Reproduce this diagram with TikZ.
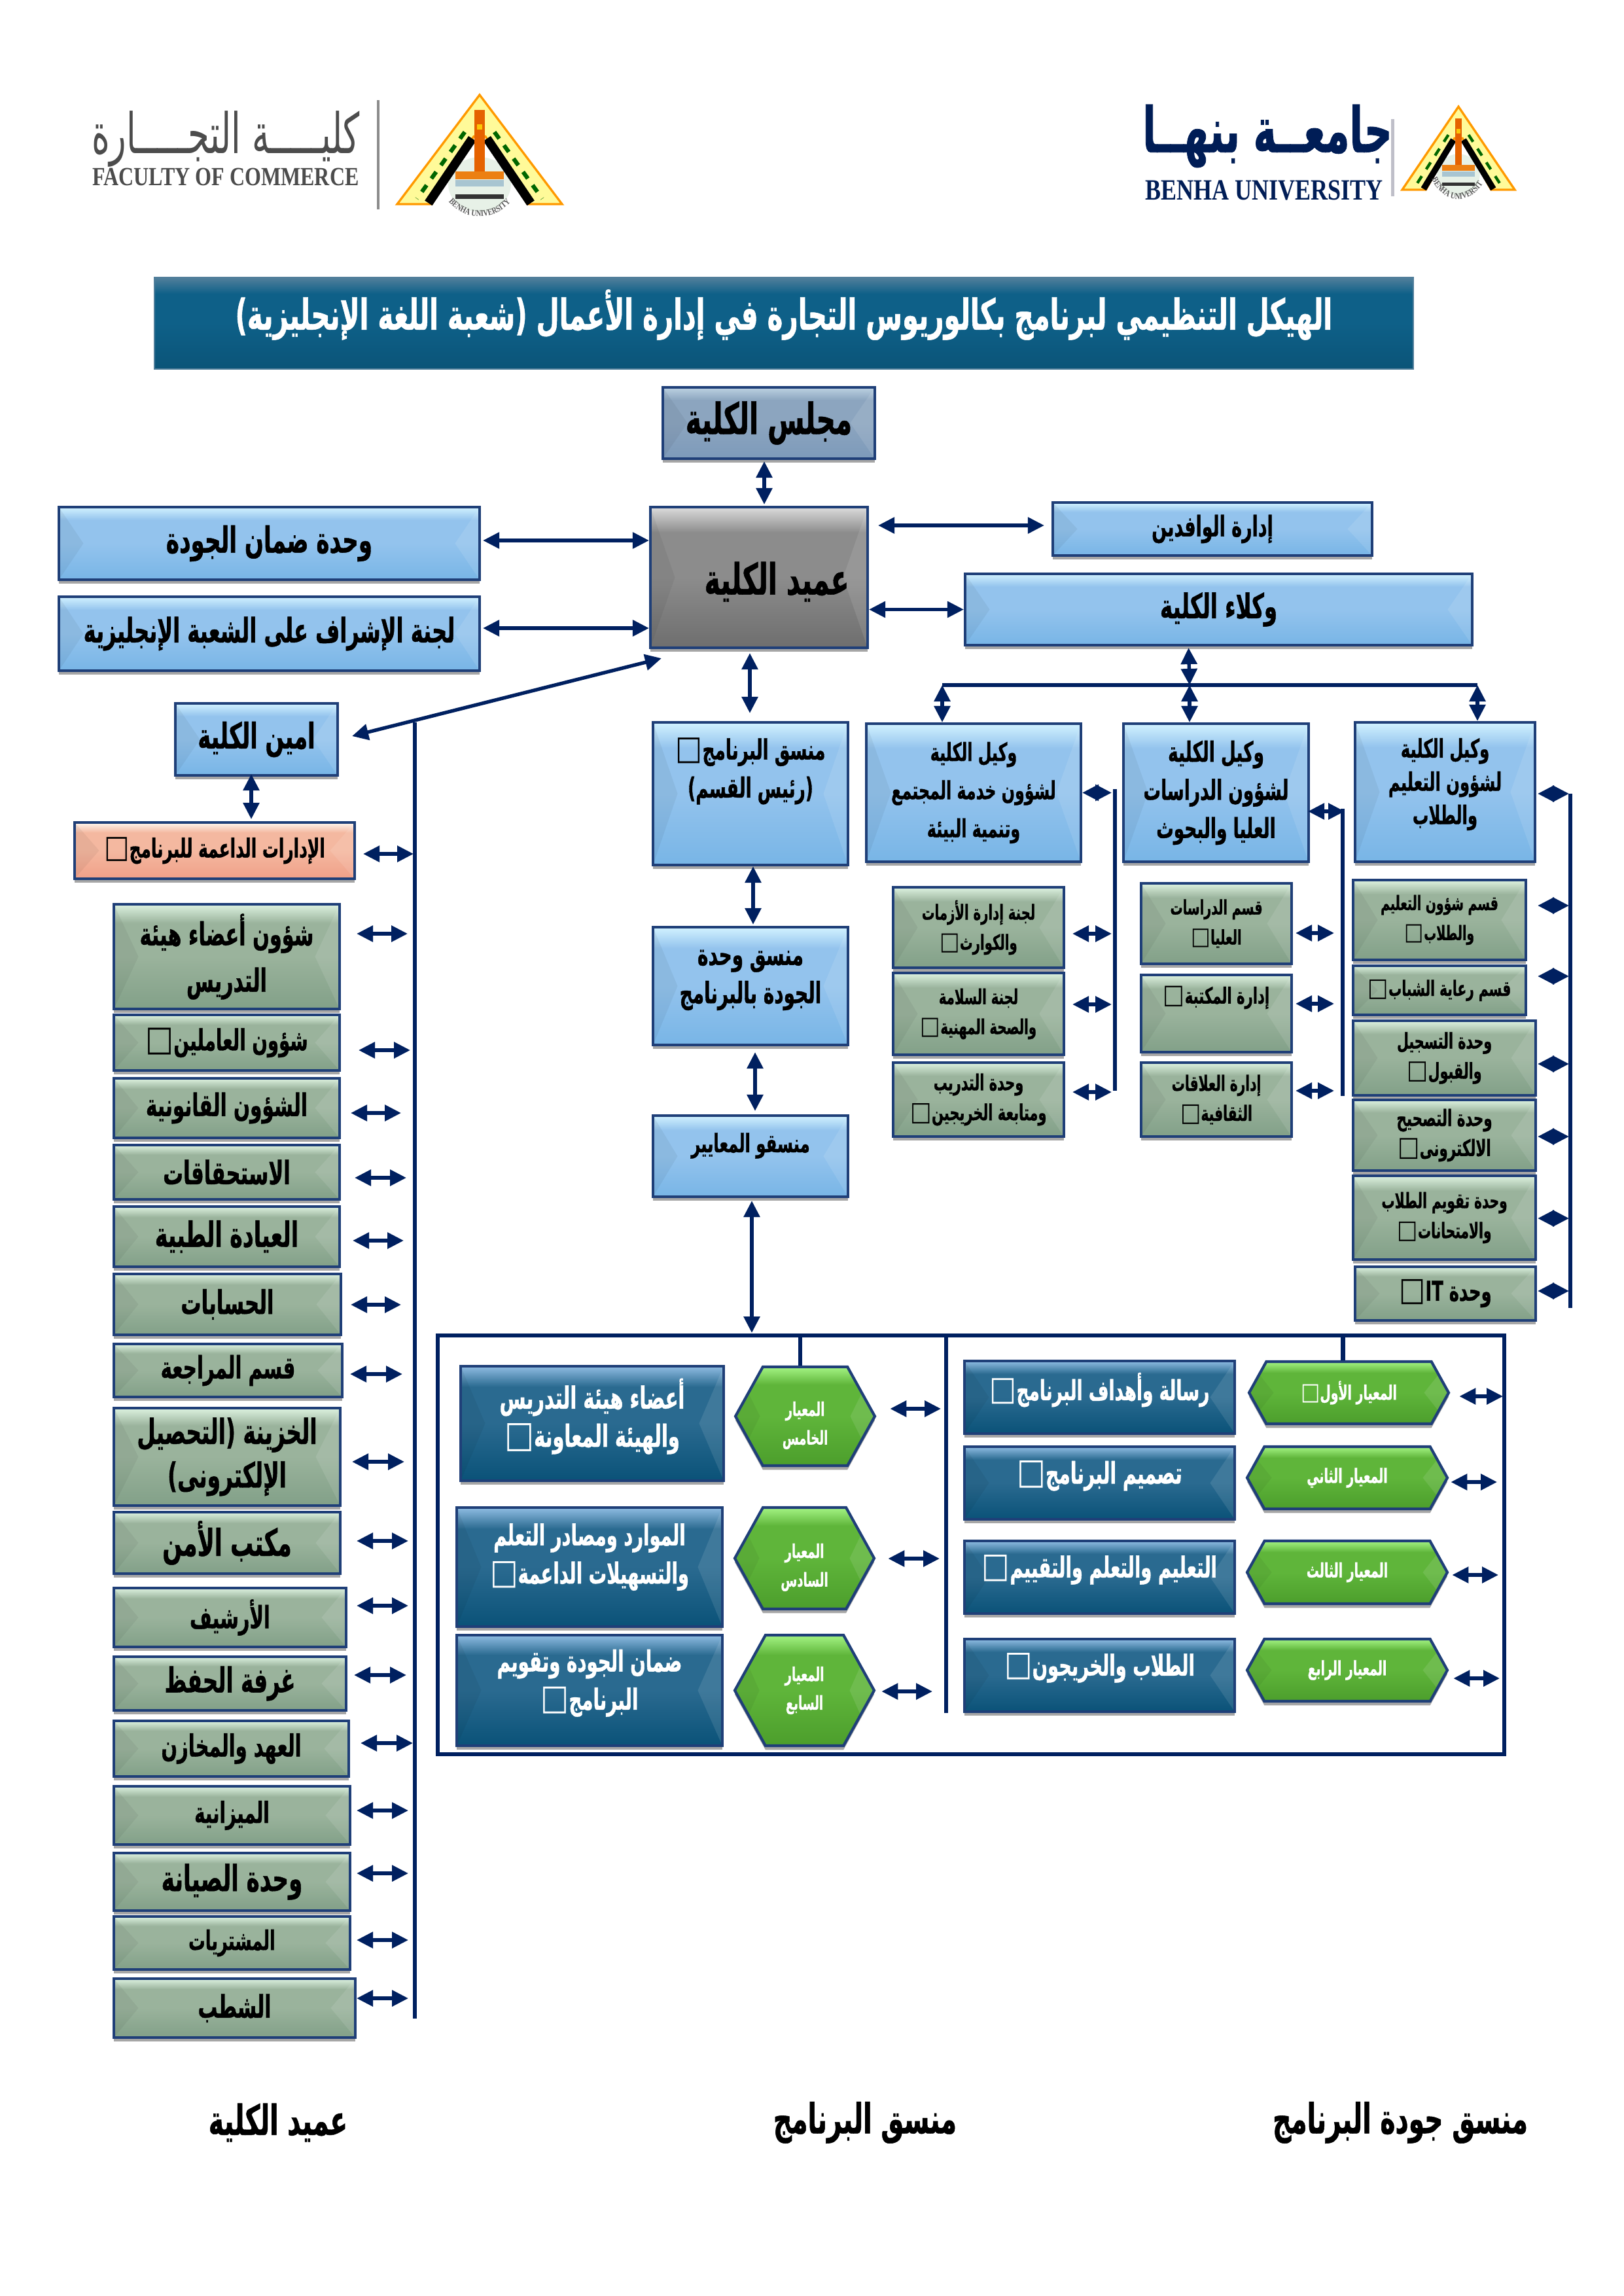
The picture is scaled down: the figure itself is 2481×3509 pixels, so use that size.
\documentclass[tikz,border=0pt]{standalone}
\usepackage{fontspec}
\usetikzlibrary{arrows.meta,shadows,shapes.symbols,decorations.text}
\setmainfont{DejaVu Sans}
\newfontfamily\arabicfont[Script=Arabic,FakeStretch=0.62,BoldFeatures={FakeBold=0.8}]{DejaVu Sans}
\newfontfamily\capsfont[FakeStretch=0.8]{Liberation Serif}
\newfontfamily\boxfont[Scale=1.2,FakeStretch=0.85]{DejaVu Sans}
\TeXXeTstate=1
\def\pxu{0.24pt}
\newcommand{\ar}[1]{\beginR #1\endR}
\newcommand{\tofu}{{\boxfont\mdseries □}}
\newcommand{\arsize}[2]{\arabicfont\bfseries\fontsize{#1}{#2}\selectfont}
\definecolor{navy}{HTML}{002060}
\definecolor{rim}{HTML}{1F3F78}
\definecolor{blueA}{HTML}{D2F2FF}\definecolor{blueB}{HTML}{93C3ED}\definecolor{blueC}{HTML}{78B5E6}
\definecolor{sageA}{HTML}{DDF2E0}\definecolor{sageB}{HTML}{9AB39C}\definecolor{sageC}{HTML}{82A088}
\definecolor{deepA}{HTML}{8FBCE2}\definecolor{deepB}{HTML}{2A6A90}\definecolor{deepC}{HTML}{0A5278}
\definecolor{limeA}{HTML}{A4F484}\definecolor{limeB}{HTML}{5FB53A}\definecolor{limeC}{HTML}{4C9E2C}
\definecolor{salmonA}{HTML}{FFF6EE}\definecolor{salmonB}{HTML}{F4B8A0}\definecolor{salmonC}{HTML}{F0A088}
\definecolor{greyA}{HTML}{DCDCDC}\definecolor{greyB}{HTML}{8C8C8C}\definecolor{greyC}{HTML}{6E6E6E}
\definecolor{slateA}{HTML}{BCD2E2}\definecolor{slateB}{HTML}{8CA5BF}\definecolor{slateC}{HTML}{7D9ABA}
\definecolor{headA}{HTML}{527F9B}\definecolor{headB}{HTML}{0E6088}\definecolor{headC}{HTML}{0B5478}
% three stops for each bevelled fill
\newcommand{\makeshade}[1]{\pgfdeclareverticalshading{#1shade}{100bp}{color(0bp)=(#1C); color(25bp)=(#1C); color(50bp)=(#1B); color(66bp)=(#1B); color(75bp)=(#1A); color(100bp)=(#1A)}}
\makeshade{blue}\makeshade{sage}\makeshade{deep}\makeshade{lime}\makeshade{salmon}\makeshade{grey}\makeshade{slate}\makeshade{head}
% crest: apex at #1,#2, half width #3, height #4
\newcommand{\crest}[4]{%
\begin{scope}[shift={(#1,#2)},x=#3*\pxu,y=-#4*\pxu]
\fill[green!25!gray!15!white] (0,.82) ellipse (.38 and .25);
\fill[yellow!40!white,draw=orange!80!yellow,line width=.8pt] (0,0) -- (1,1) -- (.58,1) -- (.07,.38) -- (-.07,.38) -- (-.58,1) -- (-1,1) -- cycle;
\draw[black,line width=#3*.026pt] (.09,.4) -- (.62,.99) (-.09,.4) -- (-.62,.99);
\draw[black!60!green,line width=#3*.012pt,dashed] (.18,.34) -- (.76,.95) (-.18,.34) -- (-.76,.95);
\fill[orange!85!red!90!black] (-.06,.14) rectangle (.06,.72);
\fill[yellow!60!orange] (-.035,.27) rectangle (.035,.32);
\fill[orange!70!brown] (-.29,.7) rectangle (.29,.77);
\fill[cyan!35!gray!60!white] (-.29,.78) rectangle (.29,.84);
\fill[black!80] (-.29,.91) rectangle (.29,.95);
\path[decorate,decoration={text along path,text align=center,text color=black!65,text={|\capsfont\bfseries\fontsize{3.2}{4}\selectfont|BENHA UNIVERSITY}}] (-.42,.94) .. controls (-.2,1.17) and (.2,1.17) .. (.42,.94);
\end{scope}}
\begin{document}
\begin{tikzpicture}[
  x=\pxu, y=-\pxu,
  every node/.style={inner sep=0pt, align=center},
  boxsize/.style 2 args={minimum width=#1*\pxu, minimum height=#2*\pxu},
  panel/.style={draw=rim, line width=1pt, shade, drop shadow={shadow xshift=0pt, shadow yshift=-1.5pt, opacity=.35, fill=black},
    path picture={
      \fill[black,opacity=.05] (path picture bounding box.north west) -- ([xshift=9pt]path picture bounding box.west) -- (path picture bounding box.south west) -- cycle;
      \fill[white,opacity=.1] (path picture bounding box.north east) -- ([xshift=-9pt]path picture bounding box.east) -- (path picture bounding box.south east) -- cycle;
    }},
  bluebox/.style={panel, shading=blueshade, text=black},
  sagebox/.style={panel, shading=sageshade, text=black},
  deepbox/.style={panel, shading=deepshade, text=white},
  hexbox/.style={panel, shading=limeshade, text=white, shape=signal, signal to=west and east, signal pointer angle=122},
  twoway/.style={{Triangle[length=6pt,width=5.8pt]}-{Triangle[length=6pt,width=5.8pt]}, navy, line width=1.3pt},
  bus/.style={navy, line width=1.5pt},
  signoff/.style={font=\arsize{15.2}{18}, text=black}
]
\path[fill=white,use as bounding box] (0,0) rectangle (2481,3509);

% logos
\crest{733}{145}{126}{167}
\draw[black!45,line width=.8pt] (578,153) -- (578,320);
\node[font=\arabicfont\fontsize{20.5}{24}\selectfont, text=black!70] (faculty) at (345,212) {\ar{كليـــــة التجـــــارة}};
\node[font=\capsfont\bfseries\fontsize{9.6}{12}\selectfont, text=black!70] (commerce) at (345,270) {FACULTY OF COMMERCE};
\crest{2229}{163}{86}{127}
\draw[blue!15!black!25,line width=1.2pt] (2128,182) -- (2128,300);
\node[font=\arsize{23}{28}, text=navy!90!black] (benhaAr) at (1937,208) {\ar{جامعــة بنهــا}};
\node[font=\capsfont\bfseries\fontsize{10.8}{13}\selectfont, text=navy!90!black] (benha) at (1932,291) {BENHA UNIVERSITY};

\node[shade, shading=headshade, draw=headA, boxsize={1924}{140}, text=white, font=\arsize{15.6}{18}, text depth=10pt] (title) at (1198,494) {\ar{الهيكل التنظيمي لبرنامج بكالوريوس التجارة في إدارة الأعمال (شعبة اللغة الإنجليزية)}};

% top of the chart
\node[panel, shading=slateshade, boxsize={324}{109}, font=\arsize{15.8}{18}] (council) at (1175,646.5) {\ar{مجلس الكلية}};
\node[panel, shading=greyshade, boxsize={332}{215}, font=\arsize{15.8}{18}, text height=15.2pt] (dean) at (1160,882.5) {\hspace*{13pt}\ar{عميد الكلية}};
\node[bluebox, boxsize={643}{111}, font=\arsize{13.2}{15}] (qaUnit) at (411.5,830.5) {\ar{وحدة ضمان الجودة}};
\node[bluebox, boxsize={643}{113}, font=\arsize{12.4}{15}] (supervise) at (411.5,968.5) {\ar{لجنة الإشراف على الشعبة الإنجليزية}};
\node[bluebox, boxsize={488}{81}, font=\arsize{10.4}{14}] (expats) at (1853,808.5) {\ar{إدارة الوافدين}};
\node[bluebox, boxsize={775}{109}, font=\arsize{12.5}{15}] (viceDeans) at (1862.5,931.5) {\ar{وكلاء الكلية}};
\node[bluebox, boxsize={248}{110}, font=\arsize{13}{15}] (secretary) at (392,1130) {\ar{امين الكلية}};
\node[panel, shading=salmonshade, boxsize={428}{86}, font=\arsize{9.6}{11}] (support) at (328,1300) {\ar{الإدارات الداعمة للبرنامج\tofu}};

% left column
\node[sagebox, boxsize={345}{160}, font=\arsize{11.7}{17}] (sa1) at (346.5,1462) {\ar{شؤون أعضاء هيئة}\\\ar{التدريس}};
\node[sagebox, boxsize={345}{85}, font=\arsize{10.7}{15}] (sa2) at (346.5,1593.5) {\ar{شؤون العاملين\tofu}};
\node[sagebox, boxsize={345}{91}, font=\arsize{11.4}{15}] (sa3) at (346.5,1693.5) {\ar{الشؤون القانونية}};
\node[sagebox, boxsize={345}{83}, font=\arsize{11.9}{15}] (sa4) at (346.5,1791.5) {\ar{الاستحقاقات}};
\node[sagebox, boxsize={345}{92}, font=\arsize{12.8}{15}] (sa5) at (346.5,1890) {\ar{العيادة  الطبية}};
\node[sagebox, boxsize={347}{93}, font=\arsize{12}{15}] (sa6) at (347.5,1993.5) {\ar{الحسابات}};
\node[sagebox, boxsize={349}{81}, font=\arsize{11.3}{15}] (sa7) at (348.5,2094.5) {\ar{قسم  المراجعة}};
\node[sagebox, boxsize={346}{149}, font=\arsize{12.7}{16}] (sa8) at (347,2226.5) {\ar{الخزينة (التحصيل}\\\ar{الإلكترونى)}};
\node[sagebox, boxsize={346}{94}, font=\arsize{13.6}{15}] (sa9) at (347,2358) {\ar{مكتب الأمن}};
\node[sagebox, boxsize={355}{90}, font=\arsize{11.2}{15}] (sa10) at (351.5,2472) {\ar{الأرشيف}};
\node[sagebox, boxsize={355}{82}, font=\arsize{12.6}{15}] (sa11) at (351.5,2573) {\ar{غرفة  الحفظ}};
\node[sagebox, boxsize={359}{85}, font=\arsize{11.2}{15}] (sa12) at (353.5,2672.5) {\ar{العهد  والمخازن}};
\node[sagebox, boxsize={361}{89}, font=\arsize{10.7}{15}] (sa13) at (354.5,2774.5) {\ar{الميزانية}};
\node[sagebox, boxsize={361}{88}, font=\arsize{13.2}{15}] (sa14) at (354.5,2876) {\ar{وحدة  الصيانة}};
\node[sagebox, boxsize={361}{81}, font=\arsize{9.9}{15}] (sa15) at (354.5,2969.5) {\ar{المشتريات}};
\node[sagebox, boxsize={369}{90}, font=\arsize{11.5}{15}] (sa16) at (358.5,3069) {\ar{الشطب}};

% programme coordinators
\node[bluebox, boxsize={298}{218}, font=\arsize{10.2}{14}, text depth=19pt] (progCoord) at (1147,1213) {\ar{منسق البرنامج\tofu}\\\ar{(رئيس القسم)}};
\node[bluebox, boxsize={298}{180}, font=\arsize{10.8}{14}, text depth=7pt] (qualCoord) at (1147,1507) {\ar{منسق وحدة}\\\ar{الجودة بالبرنامج}};
\node[bluebox, boxsize={298}{124}, font=\arsize{9.4}{14}, text depth=10pt] (stdCoord) at (1147,1767) {\ar{منسقو المعايير}};

% vice deans
\node[bluebox, boxsize={328}{211}, font=\arsize{9.2}{14}] (viceComm) at (1488,1211.5) {\ar{وكيل الكلية}\\\ar{لشؤون خدمة المجتمع}\\\ar{وتنمية البيئة}};
\node[bluebox, boxsize={283}{211}, font=\arsize{10.2}{14}] (viceGrad) at (1858.5,1211.5) {\ar{وكيل الكلية}\\\ar{لشؤون الدراسات}\\\ar{العليا والبحوث}};
\node[bluebox, boxsize={275}{213}, font=\arsize{9.4}{12.2}, text depth=8pt] (viceEdu) at (2208.5,1210.5) {\ar{وكيل الكلية}\\\ar{لشؤون التعليم}\\\ar{والطلاب}};

\node[sagebox, boxsize={261}{123}, font=\arsize{7.6}{11}] (ca1) at (1495.5,1417.5) {\ar{لجنة إدارة الأزمات}\\\ar{والكوارث\tofu}};
\node[sagebox, boxsize={261}{125}, font=\arsize{7.6}{11}] (ca2) at (1495.5,1549.5) {\ar{لجنة السلامة}\\\ar{والصحة المهنية\tofu}};
\node[sagebox, boxsize={261}{113}, font=\arsize{8.1}{11}] (ca3) at (1495.5,1680.5) {\ar{وحدة التدريب}\\\ar{ومتابعة الخريجين\tofu}};
\node[sagebox, boxsize={230}{123}, font=\arsize{7.4}{11}] (cb1) at (1859,1411.5) {\ar{قسم الدراسات}\\\ar{العليا\tofu}};
\node[sagebox, boxsize={230}{118}, font=\arsize{8.2}{11}, text depth=13.6pt] (cb2) at (1859,1549) {\ar{إدارة المكتبة\tofu}};
\node[sagebox, boxsize={230}{113}, font=\arsize{7.8}{11}] (cb3) at (1859,1680.5) {\ar{إدارة العلاقات}\\\ar{الثقافية\tofu}};
\node[sagebox, boxsize={264}{122}, font=\arsize{7.3}{11}] (cc1) at (2200,1406) {\ar{قسم شؤون التعليم}\\\ar{والطلاب\tofu}};
\node[sagebox, boxsize={264}{75}, font=\arsize{7.8}{11}] (cc2) at (2200,1513.5) {\ar{قسم رعاية الشباب\tofu}};
\node[sagebox, boxsize={279}{114}, font=\arsize{8}{11}] (cc3) at (2207.5,1617) {\ar{وحدة التسجيل}\\\ar{والقبول\tofu}};
\node[sagebox, boxsize={279}{108}, font=\arsize{8.3}{11}] (cc4) at (2207.5,1735) {\ar{وحدة التصحيح}\\\ar{الالكترونى\tofu}};
\node[sagebox, boxsize={279}{128}, font=\arsize{7.8}{11}] (cc5) at (2207.5,1861) {\ar{وحدة تقويم الطلاب}\\\ar{والامتحانات\tofu}};
\node[sagebox, boxsize={276}{82}, font=\arsize{10}{12}] (cc6) at (2209,1977) {\ar{وحدة \beginL IT\endL\tofu}};

% frame with the standards
\coordinate (frameNW) at (669,2041);
\coordinate (frameSE) at (2299,2681);
\coordinate (frameMid) at (1446,2041);
\node[deepbox, boxsize={413}{111}, font=\arsize{10.2}{12}, text depth=8pt] (d1) at (1680.5,2135.5) {\ar{رسالة وأهداف البرنامج\tofu}};
\node[deepbox, boxsize={413}{111}, font=\arsize{10.9}{12}, text depth=8pt] (d2) at (1680.5,2266.5) {\ar{تصميم البرنامج\tofu}};
\node[deepbox, boxsize={413}{111}, font=\arsize{10.6}{12}, text depth=8pt] (d3) at (1680.5,2410.5) {\ar{التعليم والتعلم والتقييم\tofu}};
\node[deepbox, boxsize={413}{111}, font=\arsize{10.6}{12}, text depth=8pt] (d4) at (1680.5,2560.5) {\ar{الطلاب والخريجون\tofu}};
\node[deepbox, boxsize={402}{175}, font=\arsize{11.2}{14}, text depth=8pt] (d5) at (905,2175.5) {\ar{أعضاء هيئة التدريس}\\\ar{والهيئة المعاونة\tofu}};
\node[deepbox, boxsize={406}{182}, font=\arsize{10.6}{14}, text depth=10pt] (d6) at (901,2395) {\ar{الموارد ومصادر التعلم}\\\ar{والتسهيلات الداعمة\tofu}};
\node[deepbox, boxsize={406}{169}, font=\arsize{10.7}{14}, text depth=8pt] (d7) at (901,2583.5) {\ar{ضمان الجودة وتقويم}\\\ar{البرنامج\tofu}};
\node[hexbox, boxsize={305}{95}, font=\arsize{7.3}{10}] (h1) at (2061.5,2128.5) {\ar{المعيار الأول\tofu}};
\node[hexbox, boxsize={306}{95}, font=\arsize{7.3}{10}] (h2) at (2059,2258.5) {\ar{المعيار الثاني}};
\node[hexbox, boxsize={306}{96}, font=\arsize{7.3}{10}] (h3) at (2059,2403) {\ar{المعيار الثالث}};
\node[hexbox, boxsize={306}{95}, font=\arsize{7.3}{10}] (h4) at (2059,2552.5) {\ar{المعيار الرابع}};
\node[hexbox, boxsize={213}{151}, font=\arsize{7}{10.5}] (h5) at (1230.5,2164.5) {\rule{0pt}{12pt}\ar{المعيار}\\\ar{الخامس}};
\node[hexbox, boxsize={213}{155}, font=\arsize{7}{10.5}] (h6) at (1229.5,2381.5) {\rule{0pt}{12pt}\ar{المعيار}\\\ar{السادس}};
\node[hexbox, boxsize={213}{169}, font=\arsize{7}{10.5}] (h7) at (1229.5,2583.5) {\ar{المعيار}\\\ar{السابع}};

% signatures
\node[signoff] (sigDean) at (425,3244) {\ar{عميد الكلية}};
\node[signoff] (sigProg) at (1322,3244) {\ar{منسق البرنامج}};
\node[signoff] (sigQual) at (2140,3244) {\ar{منسق جودة البرنامج}};

% rails
\coordinate (busL) at (634,1104);
\coordinate (busLend) at (634,3085);
\coordinate (busA) at (1704,1206);
\coordinate (busAend) at (1704,1667);
\coordinate (busB) at (2052,1236);
\coordinate (busBend) at (2052,1675);
\coordinate (busC) at (2400,1213);
\coordinate (busCend) at (2400,1999);
\coordinate (barW) at (1440,1047);
\coordinate (barE) at (2258,1047);
\coordinate (hub) at (1818,1047);
\draw[bus] (busL) -- (busLend);
\draw[bus] (busA) -- (busAend);
\draw[bus] (busB) -- (busBend);
\draw[bus] (busC) -- (busCend);
\draw[bus] (barW) -- (barE);
\draw[bus] (frameNW) rectangle (frameSE);
\draw[bus] (frameMid) -- (frameMid |- d4.south);
\draw[bus] ([shift={(-9,0)}]h1.north) -- ([shift={(-9,0)}]h1.north |- frameNW);
\draw[bus] ([shift={(-7.5,0)}]h5.north) -- ([shift={(-7.5,0)}]h5.north |- frameNW);

% links round the dean
\draw[twoway] ([shift={(-7,2)}]council.south) -- ([shift={(8,-2)}]dean.north);
\draw[twoway] ([shift={(3,-4.5)}]qaUnit.east) -- ([shift={(0,-4.5)}]qaUnit.east -| dean.west);
\draw[twoway] ([shift={(3,-8.5)}]supervise.east) -- ([shift={(0,-8.5)}]supervise.east -| dean.west);
\draw[twoway] ([shift={(14,-5.5)}]expats.west -| dean.east) -- ([shift={(-11,-5.5)}]expats.west);
\draw[twoway] (viceDeans.west -| dean.east) -- (viceDeans.west);
\draw[twoway] ([shift={(20,-5)}]secretary.east) -- ([shift={(19,14)}]dean.south west);
\draw[twoway] ([shift={(-8,-4)}]secretary.south) -- ([shift={(56,-3)}]support.north);
\draw[twoway] ([shift={(-14,6)}]dean.south) -- ([shift={(-1,-12)}]progCoord.north);
\draw[twoway] ([shift={(4,0)}]progCoord.south) -- ([shift={(4,-2)}]qualCoord.north);
\draw[twoway] ([shift={(7,9)}]qualCoord.south) -- ([shift={(7,-5)}]stdCoord.north);
\draw[twoway] ([shift={(2,4)}]stdCoord.south) -- ([shift={(2,-4)}]stdCoord.south |- frameNW);

% vice deans
\draw[twoway] ([shift={(-46,2)}]viceDeans.south) -- (hub);
\draw[twoway] (barW) -- (barW |- viceComm.north);
\draw[twoway] (hub) -- (hub |- viceGrad.north);
\draw[twoway] (barE) -- (barE |- viceEdu.north);
\draw[twoway] (viceComm.east) -- ([shift={(-5,0)}]viceComm.east -| busA);
\draw[twoway] ([shift={(-3,28.5)}]viceGrad.east) -- ([shift={(3,28.5)}]viceGrad.east -| busB);
\draw[twoway] ([shift={(2,2.5)}]viceEdu.east) -- ([shift={(-2,2.5)}]viceEdu.east -| busC);
\draw[twoway] ([shift={(11,9.5)}]ca1.east) -- ([shift={(-5,9.5)}]ca1.east -| busA);
\draw[twoway] ([shift={(11,-14.5)}]ca2.east) -- ([shift={(-5,-14.5)}]ca2.east -| busA);
\draw[twoway] ([shift={(11,-11.5)}]ca3.east) -- ([shift={(-5,-11.5)}]ca3.east -| busA);
\draw[twoway] ([shift={(4,14.5)}]cb1.east) -- ([shift={(-13,14.5)}]cb1.east -| busB);
\draw[twoway] ([shift={(4,-15)}]cb2.east) -- ([shift={(-13,-15)}]cb2.east -| busB);
\draw[twoway] ([shift={(4,-13.5)}]cb3.east) -- ([shift={(-13,-13.5)}]cb3.east -| busB);
\draw[twoway] ([shift={(16,-22)}]cc1.east) -- ([shift={(-2,-22)}]cc1.east -| busC);
\draw[twoway] ([shift={(16,-21.5)}]cc2.east) -- ([shift={(-2,-21.5)}]cc2.east -| busC);
\draw[twoway] ([shift={(1,9)}]cc3.east) -- ([shift={(-2,9)}]cc3.east -| busC);
\draw[twoway] ([shift={(1,2)}]cc4.east) -- ([shift={(-2,2)}]cc4.east -| busC);
\draw[twoway] ([shift={(1,1)}]cc5.east) -- ([shift={(-2,1)}]cc5.east -| busC);
\draw[twoway] ([shift={(1,-4)}]cc6.east) -- ([shift={(-2,-4)}]cc6.east -| busC);

% left rail
\draw[twoway] ([shift={(11,5)}]support.east) -- ([shift={(-2,5)}]support.east -| busL);
\draw[twoway] ([shift={(24,-35)}]sa1.east) -- ([shift={(-11,-35)}]sa1.east -| busL);
\draw[twoway] ([shift={(27,11.5)}]sa2.east) -- ([shift={(-7,11.5)}]sa2.east -| busL);
\draw[twoway] ([shift={(15,7.5)}]sa3.east) -- ([shift={(-21,7.5)}]sa3.east -| busL);
\draw[twoway] ([shift={(21,8.5)}]sa4.east) -- ([shift={(-13,8.5)}]sa4.east -| busL);
\draw[twoway] ([shift={(18,6)}]sa5.east) -- ([shift={(-17,6)}]sa5.east -| busL);
\draw[twoway] ([shift={(13,0.5)}]sa6.east) -- ([shift={(-21,0.5)}]sa6.east -| busL);
\draw[twoway] ([shift={(10,5.5)}]sa7.east) -- ([shift={(-19,5.5)}]sa7.east -| busL);
\draw[twoway] ([shift={(16,7.5)}]sa8.east) -- ([shift={(-16,7.5)}]sa8.east -| busL);
\draw[twoway] ([shift={(23,-3)}]sa9.east) -- ([shift={(-10,-3)}]sa9.east -| busL);
\draw[twoway] ([shift={(14,-18)}]sa10.east) -- ([shift={(-10,-18)}]sa10.east -| busL);
\draw[twoway] ([shift={(10,-13)}]sa11.east) -- ([shift={(-13,-13)}]sa11.east -| busL);
\draw[twoway] ([shift={(16,-8.5)}]sa12.east) -- ([shift={(-3,-8.5)}]sa12.east -| busL);
\draw[twoway] ([shift={(8,-7.5)}]sa13.east) -- ([shift={(-10,-7.5)}]sa13.east -| busL);
\draw[twoway] ([shift={(8,-13)}]sa14.east) -- ([shift={(-10,-13)}]sa14.east -| busL);
\draw[twoway] ([shift={(8,-4.5)}]sa15.east) -- ([shift={(-10,-4.5)}]sa15.east -| busL);
\draw[twoway] ([shift={(0,-15)}]sa16.east) -- ([shift={(-10,-15)}]sa16.east -| busL);

% standards
\draw[twoway] ([shift={(14,5.5)}]h1.east) -- ([shift={(-2,5.5)}]h1.east -| frameSE);
\draw[twoway] ([shift={(3,6.5)}]h2.east) -- ([shift={(-11,6.5)}]h2.east -| frameSE);
\draw[twoway] ([shift={(5,4)}]h3.east) -- ([shift={(-9,4)}]h3.east -| frameSE);
\draw[twoway] ([shift={(7,12.5)}]h4.east) -- ([shift={(-7,12.5)}]h4.east -| frameSE);
\draw[twoway] ([shift={(21,-11.5)}]h5.east) -- ([shift={(-8,-11.5)}]h5.east -| frameMid);
\draw[twoway] ([shift={(19,0.5)}]h6.east) -- ([shift={(-10,0.5)}]h6.east -| frameMid);
\draw[twoway] ([shift={(9,1.5)}]h7.east) -- ([shift={(-21,1.5)}]h7.east -| frameMid);
\end{tikzpicture}
\end{document}
